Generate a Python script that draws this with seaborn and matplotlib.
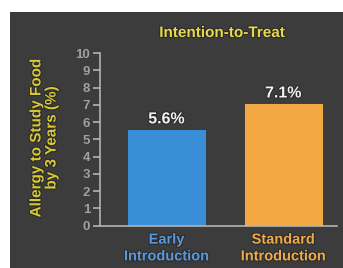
import matplotlib
matplotlib.use("Agg")
import matplotlib.pyplot as plt
import matplotlib.patheffects as pe
import seaborn as sns
import pandas as pd
from matplotlib.patches import Rectangle

categories = ["Early\nIntroduction", "Standard\nIntroduction"]
values = [5.6, 7.1]
value_labels = ["5.6%", "7.1%"]
bar_colors = ["#3a8ed8", "#f2a944"]
label_colors = ["#5a98dc", "#eeaa48"]
yticks = list(range(0, 11))
title = "Intention-to-Treat"
ylabel = "Allergy to Study Food\nby 3 Years (%)"

sns.set_theme(style="dark")
plt.rcParams['font.family'] = ['Liberation Sans', 'DejaVu Sans']

BG = "#3c3c3c"
shadow = [pe.withStroke(linewidth=1.5, foreground="#2a2a2a")]
fig = plt.figure(figsize=(3.43, 2.68), dpi=100, facecolor="white")
fig.patches.append(Rectangle((10/343, 0), 1, 1 - 12/268, transform=fig.transFigure,
                             facecolor=BG, edgecolor="none", zorder=-10))
ax = fig.add_axes([100/343, 42.3/268, 237/343, (225.7-53)/268])
ax.set_facecolor(BG)
ax.patch.set_alpha(0)

df = pd.DataFrame({"cat": categories, "val": values})
sns.barplot(data=df, x="cat", y="val", hue="cat", palette=bar_colors,
            width=0.68, ax=ax, legend=False, saturation=1,
            edgecolor="#333333", linewidth=0.6)

ax.set_ylim(0, 10)
ax.set_xlim(-0.57, 1.46)
ax.set_yticks(yticks)
ax.set_yticklabels([str(t) for t in yticks], color="#a0a0a0", fontsize=9.5, fontweight="bold")
ax.set_xlabel("")
ax.set_ylabel("")
for s in ["top", "right"]:
    ax.spines[s].set_visible(False)
for s in ["left", "bottom"]:
    ax.spines[s].set_visible(True)
    ax.spines[s].set_color("#b4b4b4")
    ax.spines[s].set_linewidth(1.2)
ax.tick_params(axis="y", length=5, width=1.2, color="#b4b4b4", pad=2, left=True)
ax.tick_params(axis="x", length=0, pad=5)
ax.grid(False)

for lbl, c in zip(ax.get_xticklabels(), label_colors):
    lbl.set_color(c)
    lbl.set_fontsize(10.5)
    lbl.set_fontweight("bold")
    lbl.set_linespacing(1.25)
    lbl.set_path_effects(shadow)

for i, (v, t) in enumerate(zip(values, value_labels)):
    ax.text(i, v + 0.15, t, ha="center", va="bottom", color="#f2f2f2",
            fontsize=11.5, fontweight="bold", path_effects=shadow)

fig.text(222/343, 1 - 33/268, title, ha="center", va="center", color="#e6d84a",
         fontsize=11, fontweight="bold", path_effects=shadow)
fig.text(44/343, 1 - 138/268, ylabel, ha="center", va="center", rotation=90,
         color="#d8c934", fontsize=11, fontweight="bold", linespacing=1.1,
         path_effects=shadow)

fig.savefig("out.png", dpi=100, facecolor="white")
